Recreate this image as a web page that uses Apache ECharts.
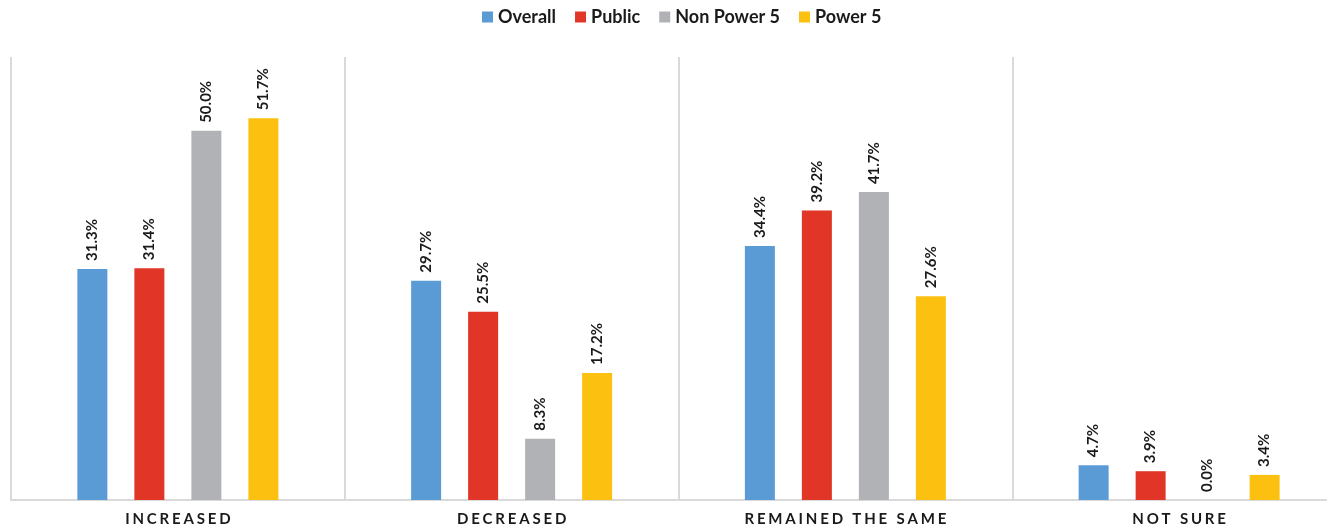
<!DOCTYPE html>
<html><head><meta charset="utf-8">
<script src="https://cdn.jsdelivr.net/npm/echarts@6/dist/echarts.min.js"></script>
<style>html,body{margin:0;padding:0;background:#fff}#c{width:1327px;height:530px}</style>
</head><body><div id="c"></div>
<script>
const categories = ['INCREASED', 'DECREASED', 'REMAINED THE SAME', 'NOT SURE'];
const seriesNames = ['Overall', 'Public', 'Non Power 5', 'Power 5'];
const overall = [31.3, 29.7, 34.4, 4.7];
const publicVals = [31.4, 25.5, 39.2, 3.9];
const nonPower5 = [50.0, 8.3, 41.7, 0.0];
const power5 = [51.7, 17.2, 27.6, 3.4];
const colors = ['#5B9BD5', '#E03527', '#B1B2B6', '#FCC010'];
const values = [overall, publicVals, nonPower5, power5];
const font = 'Lato, "Liberation Sans", sans-serif';

const chart = echarts.init(document.getElementById('c'));
chart.setOption({
  animation: false,
  textStyle: { fontFamily: font },
  legend: {
    top: 3, left: 477, itemWidth: 11, itemHeight: 11, itemGap: 19,
    icon: 'rect',
    textStyle: { fontSize: 18, fontWeight: 'bold', color: '#1a1a1a', fontFamily: font },
    data: seriesNames
  },
  grid: { left: 11, right: -19, top: 57, bottom: 30, containLabel: false, outerBoundsMode: 'none' },
  xAxis: {
    type: 'category', data: categories,
    axisLine: { lineStyle: { color: '#D9D9D9', width: 2 } },
    axisTick: { show: false },
    splitLine: { show: true, lineStyle: { color: '#D9D9D9', width: 2 } },
    axisLabel: { margin: 12, fontSize: 15, fontWeight: 'bold', color: '#1a1a1a', fontFamily: font,
      formatter: v => v.split('').join('\u2009\u200A') }
  },
  yAxis: { type: 'value', min: 0, max: 60, show: false, splitLine: { show: false } },
  series: seriesNames.map((n, i) => ({
    name: n, type: 'bar', data: values[i], barWidth: 30, barGap: '90%',
    itemStyle: { color: colors[i] },
    label: {
      show: true, position: 'top', rotate: 90, align: 'left', verticalAlign: 'middle',
      distance: 8, fontSize: 15, fontWeight: 'bold', color: '#1a1a1a', fontFamily: font,
      formatter: p => p.value.toFixed(1) + '%'
    }
  }))
});
</script></body></html>
